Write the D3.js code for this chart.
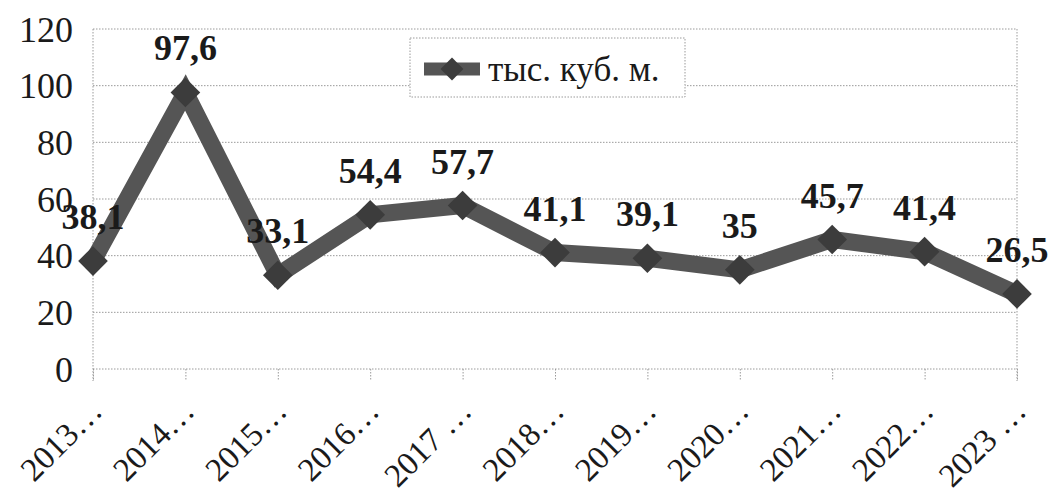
<!DOCTYPE html>
<html>
<head>
<meta charset="utf-8">
<script src="https://cdn.jsdelivr.net/npm/d3@7"></script>
<style>
  html, body { margin: 0; padding: 0; background: #fff; }
  svg { display: block; }
</style>
</head>
<body>
<div id="chart"></div>
<script>
const years = ['2013…', '2014…', '2015…', '2016…', '2017 …', '2018…', '2019…', '2020…', '2021…', '2022…', '2023 …'];
const values = [38.1, 97.6, 33.1, 54.4, 57.7, 41.1, 39.1, 35, 45.7, 41.4, 26.5];
const labels = ['38,1', '97,6', '33,1', '54,4', '57,7', '41,1', '39,1', '35', '45,7', '41,4', '26,5'];
const yTicks = [0, 20, 40, 60, 80, 100, 120];
const seriesName = 'тыс. куб. м.';

const width = 1053;
const height = 493;
const plot = { left: 93, right: 1017, top: 29, bottom: 369 };
const font = '"Liberation Serif", "DejaVu Serif", serif';
const lineColor = '#555555';
const markColor = '#3c3c3c';
const gridColor = '#9a9a9a';

const svg = d3.select('#chart')
  .append('svg')
  .attr('width', width)
  .attr('height', height);

const x = d3.scalePoint()
  .domain(years)
  .range([plot.left, plot.right]);

const y = d3.scaleLinear()
  .domain([0, 120])
  .range([plot.bottom, plot.top]);

// horizontal grid
svg.append('g')
  .selectAll('line')
  .data(yTicks)
  .enter()
  .append('line')
  .attr('x1', plot.left)
  .attr('x2', plot.right)
  .attr('y1', (d) => y(d))
  .attr('y2', (d) => y(d))
  .attr('stroke', gridColor)
  .attr('stroke-width', 1)
  .attr('stroke-dasharray', '1.5,1.5');

// left axis line and right border
[plot.left, plot.right].forEach((xx) => {
  svg.append('line')
    .attr('x1', xx).attr('x2', xx)
    .attr('y1', plot.top).attr('y2', plot.bottom + 12)
    .attr('stroke', gridColor)
    .attr('stroke-dasharray', '1.5,1.5');
});

// x axis ticks + labels
const xAxis = svg.append('g')
  .attr('transform', `translate(0, ${plot.bottom})`)
  .call(d3.axisBottom(x).tickSize(12).tickFormat(''));
xAxis.select('.domain').remove();
xAxis.selectAll('.tick line')
  .attr('stroke', gridColor)
  .attr('stroke-dasharray', '1.5,1.5');

svg.append('g')
  .selectAll('text')
  .data(years)
  .enter()
  .append('text')
  .attr('transform', (d) => `translate(${x(d) + 11}, ${plot.bottom + 44}) rotate(-45)`)
  .attr('text-anchor', 'end')
  .style('font-family', font)
  .style('font-size', '33px')
  .style('fill', '#1a1a1a')
  .text((d) => d);

// y axis labels
const yAxis = svg.append('g')
  .attr('transform', `translate(${plot.left}, 0)`)
  .call(d3.axisLeft(y).tickValues(yTicks).tickSize(0).tickPadding(20));
yAxis.select('.domain').remove();
yAxis.selectAll('.tick text')
  .attr('dy', '0.34em')
  .style('font-family', font)
  .style('font-size', '36px')
  .style('fill', '#1a1a1a');

// series line
const line = d3.line()
  .x((d, i) => x(years[i]))
  .y((d) => y(d));

svg.append('path')
  .datum(values)
  .attr('d', line)
  .attr('fill', 'none')
  .attr('stroke', lineColor)
  .attr('stroke-width', 17)
  .attr('stroke-linejoin', 'miter');

svg.append('g')
  .selectAll('path')
  .data(values)
  .enter()
  .append('path')
  .attr('transform', (d, i) => `translate(${x(years[i])}, ${y(d)}) rotate(45)`)
  .attr('d', d3.symbol().type(d3.symbolSquare).size(440))
  .attr('fill', markColor);

// data labels
svg.append('g')
  .selectAll('text')
  .data(values)
  .enter()
  .append('text')
  .attr('x', (d, i) => x(years[i]))
  .attr('y', (d) => y(d) - 32)
  .attr('text-anchor', 'middle')
  .style('font-family', font)
  .style('font-size', '36px')
  .style('font-weight', 'bold')
  .style('fill', '#1a1a1a')
  .text((d, i) => labels[i]);

// legend
const legend = svg.append('g').attr('transform', 'translate(410, 38)');
legend.append('rect')
  .attr('width', 275)
  .attr('height', 59)
  .attr('fill', '#fff')
  .attr('stroke', gridColor)
  .attr('stroke-dasharray', '1.5,1.5');
legend.append('line')
  .attr('x1', 14).attr('x2', 70)
  .attr('y1', 31).attr('y2', 31)
  .attr('stroke', lineColor)
  .attr('stroke-width', 13);
legend.append('path')
  .attr('transform', 'translate(42, 31) rotate(45)')
  .attr('d', d3.symbol().type(d3.symbolSquare).size(260))
  .attr('fill', markColor);
legend.append('text')
  .attr('x', 78)
  .attr('y', 43)
  .style('font-family', font)
  .style('font-size', '35px')
  .style('fill', '#1a1a1a')
  .text(seriesName);
</script>
</body>
</html>
